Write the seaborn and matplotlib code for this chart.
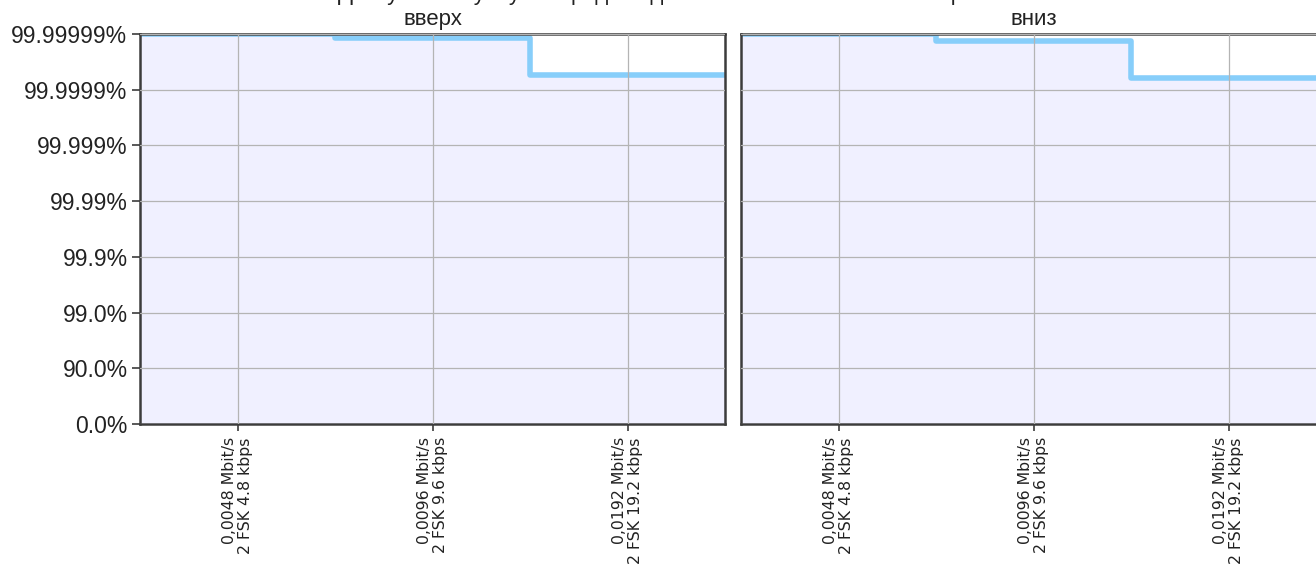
import numpy as np
import pandas as pd
import matplotlib
matplotlib.use("Agg")
import matplotlib.pyplot as plt
import seaborn as sns

# Data rates (category labels on the x axis)
rates = [
    "0,0048 Mbit/s\n2 FSK 4.8 kbps",
    "0,0096 Mbit/s\n2 FSK 9.6 kbps",
    "0,0192 Mbit/s\n2 FSK 19.2 kbps",
]
# Link availability, percent, per direction
availability_up = [99.99999, 99.9999882, 99.9999463]
availability_down = [99.99999, 99.9999868, 99.9999383]
panel_titles = ["вверх", "вниз"]
y_tick_labels = ["0.0%", "90.0%", "99.0%", "99.9%", "99.99%",
                 "99.999%", "99.9999%", "99.99999%"]
figure_title = "Доступность услуги передачи данных в зависимости от скорости"

FILL = "#F0F0FF"
LINE = "#87CEFA"
SPINE = "#3c3c3c"
GRID = "#b4b4b4"
TEXT = "#222222"

sns.set_style("white")
plt.rcParams["font.family"] = ["Liberation Sans", "DejaVu Sans"]


def nines(p):
    """Availability in percent -> number of nines (-log10 of unavailability)."""
    return -np.log10(1.0 - np.asarray(p, dtype=float) / 100.0)


W, H = 1316, 569
fig = plt.figure(figsize=(W / 100, H / 100), dpi=100)
ax_l = fig.add_axes([140 / W, 1 - 424 / H, 585 / W, 390 / H])
ax_r = fig.add_axes([741 / W, 1 - 424 / H, 585 / W, 390 / H])

for ax, vals, title in zip([ax_l, ax_r], [availability_up, availability_down], panel_titles):
    df = pd.DataFrame({"rate": rates, "nines": nines(vals)})
    # filled area under the step curve
    sns.histplot(data=df, x="rate", weights="nines", discrete=True,
                 element="step", fill=True, color=FILL, alpha=1,
                 linewidth=0, ax=ax)
    # step outline
    sns.histplot(data=df, x="rate", weights="nines", discrete=True,
                 element="step", fill=False, color=LINE, alpha=1,
                 linewidth=4, ax=ax)

    ax.set_xlim(-0.5, len(rates) - 0.5)
    ax.set_ylim(0, 7)
    ax.set_xlabel("")
    ax.set_ylabel("")
    ax.set_title(title, fontsize=16, pad=6.5, color=TEXT)

    ax.set_xticks(range(len(rates)))
    ax.set_xticklabels(rates, rotation=90, ha="center", va="top",
                       multialignment="right", fontsize=11.3,
                       family="DejaVu Sans", linespacing=1.1, color=TEXT)
    ax.set_yticks(range(len(y_tick_labels)))

    ax.grid(True, color=GRID, linewidth=0.9)
    ax.set_axisbelow(False)

    for sp in ax.spines.values():
        sp.set_color(SPINE)
        sp.set_linewidth(1.8)
        sp.set_visible(True)

    ax.tick_params(axis="x", bottom=True, length=5, width=1.2,
                   color=SPINE, pad=4.5)

ax_l.set_yticklabels(y_tick_labels)
ax_l.tick_params(axis="y", left=True, length=6, width=1.2, color=SPINE,
                 labelsize=16.5, pad=3, labelcolor=TEXT)
ax_r.tick_params(axis="y", left=False, labelleft=False)

# figure title sits above the top edge; only its descenders reach the canvas
fig.text(674 / W, 1.0, figure_title, ha="center", va="baseline",
         fontsize=16, color=TEXT)

fig.savefig("out.png", dpi=100)
